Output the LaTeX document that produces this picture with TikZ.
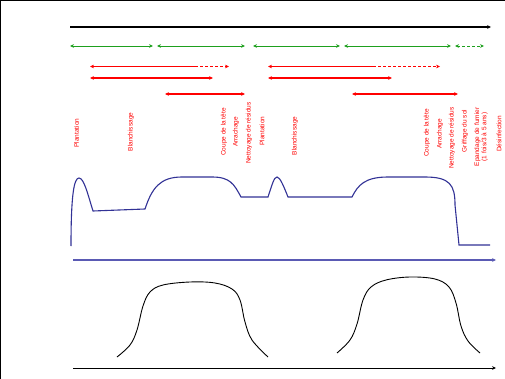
\documentclass[tikz,border=0pt]{standalone}
\usepackage{fontspec}
\setmainfont{Liberation Sans}
\usetikzlibrary{arrows.meta}
\definecolor{gr}{RGB}{30,160,30}
\definecolor{navy}{RGB}{50,50,150}
\definecolor{axblue}{RGB}{90,90,180}
\tikzset{
  lbl/.style={rotate=90,text=red,font=\fontsize{6.5}{7.2}\selectfont,inner sep=0pt,anchor=center,align=center},
  garr/.style={draw=gr,line width=0.9pt},
  rarr/.style={draw=red},
  tip/.style={-{Stealth[length=4pt,width=3.6pt]}},
  ltip/.style={{Stealth[length=4pt,width=3.6pt]}-},
  btip/.style={{Stealth[length=4pt,width=3.6pt]}-{Stealth[length=4pt,width=3.6pt]}},
}
\begin{document}
\begin{tikzpicture}[x=1pt,y=-1pt]
\useasboundingbox (0,0) rectangle (505,379);
\fill[white] (0,0) rectangle (505,379);
\draw[line width=2pt] (0,379) -- (0,0) -- (505,0);
% top black axis
\coordinate (t0) at (70,27); \coordinate (t1) at (491,27);
\draw[line width=1.6pt,tip] (t0) -- (t1);
% green arrows
\coordinate (g0) at (70,46); \coordinate (g1) at (153,46);
\coordinate (g2) at (157,46); \coordinate (g3) at (245,46);
\coordinate (g4) at (253,46); \coordinate (g5) at (340,46);
\coordinate (g6) at (344,46); \coordinate (g7) at (451,46);
\coordinate (g8) at (455,46); \coordinate (g9) at (484,46);
\draw[garr,btip] (g0) -- (g1);
\draw[garr,btip] (g2) -- (g3);
\draw[garr,btip] (g4) -- (g5);
\draw[garr,btip] (g6) -- (g7);
\draw[garr,btip,dashed,dash pattern=on 3pt off 2pt] (g8) -- (g9);
% red row 1
\coordinate (ra0) at (90,66.5); \coordinate (ra1) at (195,66.5); \coordinate (ra2) at (229,66.5);
\coordinate (rb0) at (268,66.5); \coordinate (rb1) at (373,66.5); \coordinate (rb2) at (440,66.5);
\draw[rarr,line width=1.8pt,ltip] (ra0) -- (ra1);
\draw[rarr,line width=1.3pt,tip,dash pattern=on 3pt off 2pt] (ra1) -- (ra2);
\draw[rarr,line width=1.8pt,ltip] (rb0) -- (rb1);
\draw[rarr,line width=1.3pt,tip,dash pattern=on 3pt off 2pt] (rb1) -- (rb2);
% red row 2
\coordinate (rc0) at (90,78); \coordinate (rc1) at (213,78);
\coordinate (rd0) at (268,78); \coordinate (rd1) at (392,78);
\draw[rarr,line width=1.3pt,btip] (rc0) -- (rc1);
\draw[rarr,line width=1.3pt,btip] (rd0) -- (rd1);
% red row 3
\coordinate (re0) at (165,94); \coordinate (re1) at (245,94);
\coordinate (rf0) at (352,94); \coordinate (rf1) at (458,94);
\draw[rarr,line width=1.1pt,btip] (re0) -- (re1);
\draw[rarr,line width=1.1pt,btip] (rf0) -- (rf1);
% labels
\node[lbl] (l1) at (76.5,133) {Plantation};
\node[lbl] (l2) at (131,132) {Blanchissage};
\node[lbl] (l3) at (224,132) {Coupe de la tête};
\node[lbl] (l4) at (236,132) {Arrachage};
\node[lbl] (l5) at (249,133) {Nettoyage de résidus};
\node[lbl] (l6) at (262,131) {Plantation};
\node[lbl] (l7) at (295,136) {Blanchissage};
\node[lbl] (l8) at (427,133) {Coupe de la tête};
\node[lbl] (l9) at (440,134) {Arrachage};
\node[lbl] (l10) at (452,138) {Nettoyage de résidus};
\node[lbl] (l11) at (465,131) {Griffage du sol};
\node[lbl] (l12) at (481,137) {Epandage de fumier\\(1 fois/3 à 5 ans)};
\node[lbl] (l13) at (499,134) {Désinfection};
% blue curve
\draw[navy,line width=1.1pt] (71,246) .. controls (71,195) and (74,178) .. (79,178)
  .. controls (84,178) and (88,195) .. (93,211) -- (145,209)
  .. controls (152,188) and (160,177) .. (182,177) -- (212,177)
  .. controls (230,177) and (234,184) .. (241,197) -- (268,197)
  .. controls (272,185) and (274,177) .. (277,177)
  .. controls (280,177) and (284,187) .. (288,197) -- (352,197)
  .. controls (358,185) and (365,177) .. (388,177) -- (425,177)
  .. controls (450,177) and (455,185) .. (455,205) -- (459,245) -- (490,245);
% blue axis
\coordinate (b0) at (73,260); \coordinate (b1) at (496,260);
\draw[axblue,line width=1.1pt,tip] (b0) -- (b1);
% bottom curves
\draw[line width=0.9pt] plot[smooth,tension=0.6] coordinates {(117,357) (130,345) (137,330) (143,306) (150,292) (163,285) (190,282) (215,283) (232,289) (240,300) (245,322) (252,340) (268,357)};
\draw[line width=0.9pt] plot[smooth,tension=0.6] coordinates {(337,353) (350,340) (357,324) (363,300) (371,287) (386,280) (410,277) (435,279) (449,287) (456,303) (461,326) (468,341) (480,353)};
% bottom axis
\coordinate (k0) at (73,368); \coordinate (k1) at (496,368);
\draw[line width=0.9pt,tip] (k0) -- (k1);
\end{tikzpicture}
\end{document}
